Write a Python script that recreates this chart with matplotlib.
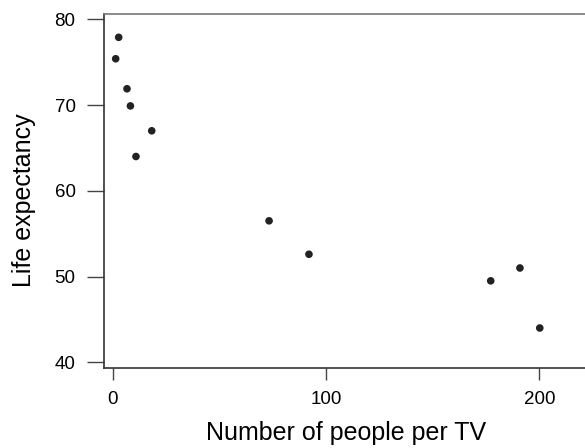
import matplotlib
matplotlib.use("Agg")
import matplotlib.pyplot as plt

people_per_tv = [1.4, 2.8, 6.7, 8.3, 10.9, 18.3, 73.3, 92.0, 177.2, 190.9, 200.2]
life_expectancy = [75.4, 77.9, 71.9, 69.9, 64.0, 67.0, 56.5, 52.6, 49.5, 51.0, 44.0]
x_ticks = [0, 100, 200]
y_ticks = [40, 50, 60, 70, 80]

plt.rcParams['font.family'] = ['Liberation Sans', 'DejaVu Sans']

W, H = 585, 448
fig = plt.figure(figsize=(W / 100, H / 100), dpi=100)
ax = fig.add_axes([104.3 / W, 1 - 367.7 / H, (W - 104.3) / W + 0.01, (367.7 - 14) / H])

ax.scatter(people_per_tv, life_expectancy, s=30, color='#222222', edgecolors='none', zorder=3)

ax.set_xlim(-3.94, 221.4 + 0.01 * W / 2.133)
ax.set_ylim(39.37, 80.62)
ax.set_xticks(x_ticks)
ax.set_yticks(y_ticks)
ax.tick_params(axis='x', length=8.6, width=1.0, color='#444444', pad=8, labelsize=13.5)
ax.tick_params(axis='y', length=12.2, width=1.0, color='#444444', pad=8.5, labelsize=13.5)
for s in ['left', 'bottom']:
    ax.spines[s].set_color('#333333')
    ax.spines[s].set_linewidth(1.2)
ax.spines['top'].set_color('#777777')
ax.spines['top'].set_linewidth(1.2)
ax.spines['right'].set_visible(False)

fig.text(346 / W, 1 - 433 / H, 'Number of people per TV', ha='center', va='center', fontsize=18)
fig.text(24 / W, 1 - 200 / H, 'Life expectancy', ha='center', va='center', rotation=90, fontsize=18)

fig.savefig('out.png', dpi=100)
